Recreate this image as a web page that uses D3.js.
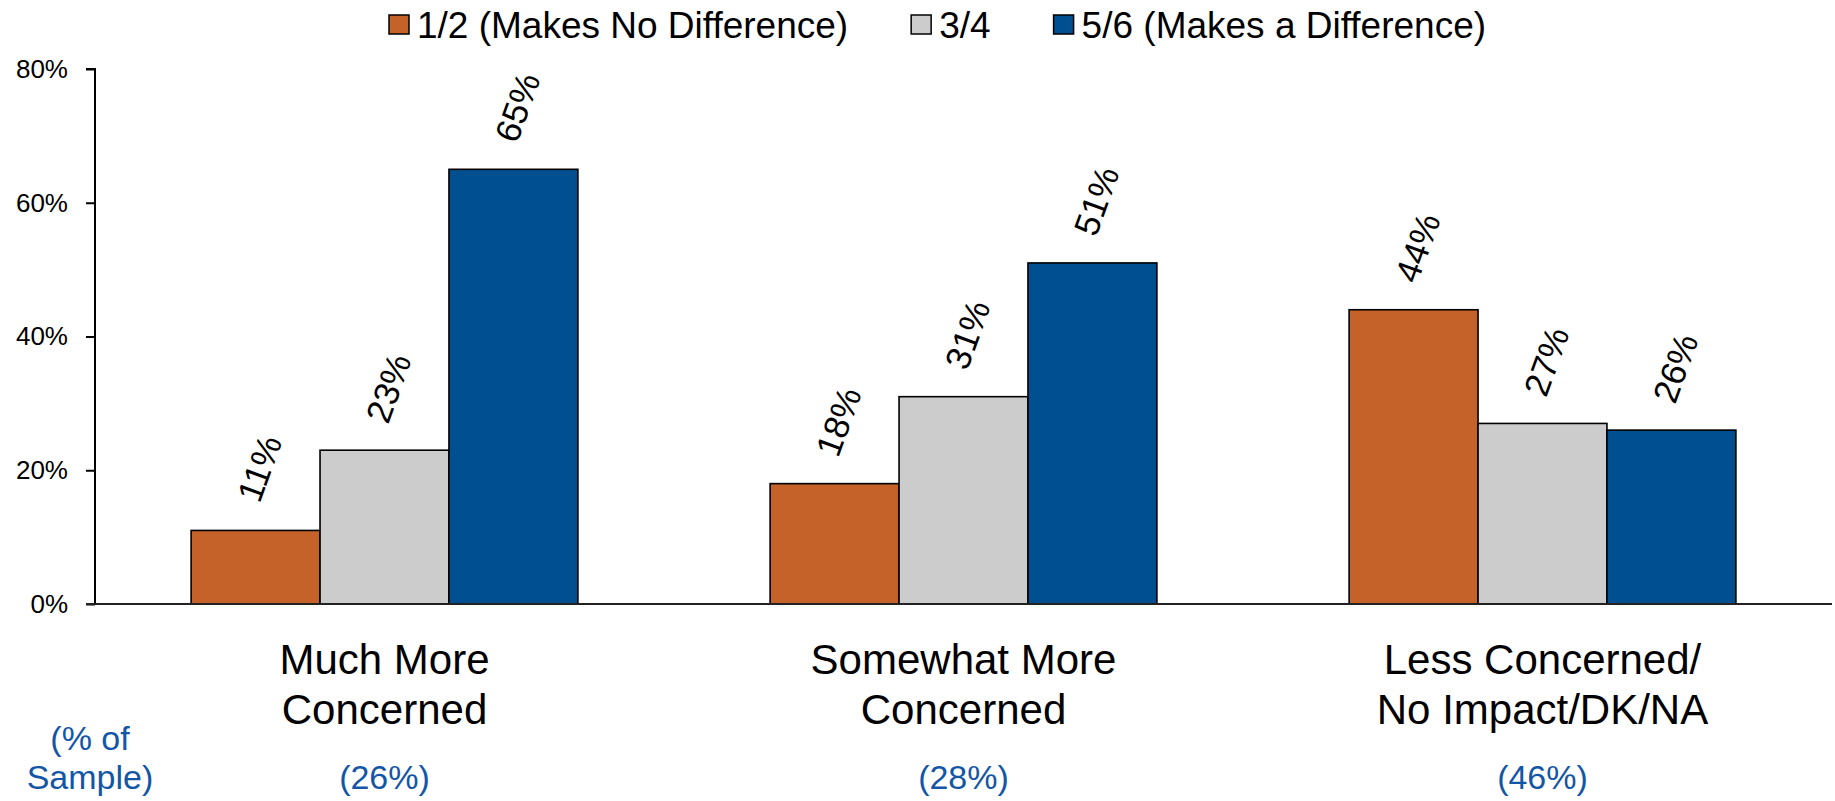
<!DOCTYPE html>
<html>
<head>
<meta charset="utf-8">
<script src="https://cdn.jsdelivr.net/npm/d3@7"></script>
<style>
  html, body { margin: 0; padding: 0; background: #ffffff; }
  svg { display: block; font-family: Arial, "Liberation Sans", sans-serif; }
</style>
</head>
<body>
<svg id="chart" width="1835" height="801"></svg>
<script>
// ---- data ----
const categories = ["Much More Concerned", "Somewhat More Concerned", "Less Concerned/No Impact/DK/NA"];
const categoryLines = [["Much More", "Concerned"], ["Somewhat More", "Concerned"], ["Less Concerned/", "No Impact/DK/NA"]];
const sampleShares = ["(26%)", "(28%)", "(46%)"];
const seriesNames = ["1/2 (Makes No Difference)", "3/4", "5/6 (Makes a Difference)"];
const seriesColors = ["#C4622A", "#CCCCCC", "#004F90"];
const makesNoDifference = [11, 18, 44];
const threeFour = [23, 31, 27];
const makesDifference = [65, 51, 26];
const yTicks = [0, 20, 40, 60, 80];
const sampleCaption = ["(% of", "Sample)"];

const seriesValues = [makesNoDifference, threeFour, makesDifference];

// ---- layout ----
const svg = d3.select("#chart");
const plotLeft = 95, plotRight = 1832, plotTop = 69, plotBottom = 604;

const x0 = d3.scaleBand().domain(categories).range([plotLeft, plotRight]).paddingInner(0.332).paddingOuter(0.166);
const x1 = d3.scaleBand().domain(seriesNames).range([0, x0.bandwidth()]).padding(0);
const y = d3.scaleLinear().domain([0, 80]).range([plotBottom, plotTop]);

// y axis
const yAxis = d3.axisLeft(y).tickValues(yTicks).tickFormat(d => d + "%").tickSize(9).tickPadding(18);
const gy = svg.append("g").attr("transform", `translate(${plotLeft},0)`).call(yAxis);
gy.select(".domain").attr("stroke", "#000").attr("stroke-width", 2).attr("d", `M-9,${plotTop}H0V${plotBottom}`);
gy.selectAll(".tick line").attr("stroke", "#000").attr("stroke-width", 2);
gy.selectAll(".tick text").attr("fill", "#000").style("font-size", "26px").style("font-family", "Arial, 'Liberation Sans', sans-serif");

// bars
const groups = svg.append("g").selectAll("g").data(categories).join("g")
  .attr("transform", d => `translate(${x0(d)},0)`);

groups.each(function(cat, ci) {
  const g = d3.select(this);
  const rows = seriesNames.map((s, si) => ({ s, si, v: seriesValues[si][ci] }));
  g.selectAll("rect").data(rows).join("rect")
    .attr("x", d => x1(d.s))
    .attr("y", d => y(d.v))
    .attr("width", x1.bandwidth())
    .attr("height", d => y(0) - y(d.v))
    .attr("fill", d => seriesColors[d.si])
    .attr("stroke", "#000")
    .attr("stroke-width", 1.6);
  g.selectAll("text.val").data(rows).join("text")
    .attr("class", "val")
    .attr("transform", d => `translate(${x1(d.s) + x1.bandwidth() / 2 + 4},${y(d.v) - 62}) rotate(-70)`)
    .attr("text-anchor", "middle")
    .attr("dy", "0.35em")
    .style("font-size", "35px")
    .attr("fill", "#000")
    .text(d => d.v + "%");
});

// baseline
svg.append("line")
  .attr("x1", plotLeft - 9).attr("x2", plotRight)
  .attr("y1", y(0)).attr("y2", y(0))
  .attr("stroke", "#222").attr("stroke-width", 2);

// category labels
categories.forEach((c, i) => {
  const cx = x0(c) + x0.bandwidth() / 2;
  const t = svg.append("text").attr("text-anchor", "middle").style("font-size", "42px").attr("fill", "#000");
  categoryLines[i].forEach((line, li) => {
    t.append("tspan").attr("x", cx).attr("y", 674 + li * 50).text(line);
  });
  svg.append("text").attr("x", cx).attr("y", 789).attr("text-anchor", "middle")
    .style("font-size", "34px").attr("fill", "#1456A6").text(sampleShares[i]);
});

// sample caption
const cap = svg.append("text").attr("text-anchor", "middle").style("font-size", "34px").attr("fill", "#1456A6");
sampleCaption.forEach((line, li) => {
  cap.append("tspan").attr("x", 90).attr("y", 750 + li * 39).text(line);
});

// legend
const legend = svg.append("g");
let lx = 389;
seriesNames.forEach((s, i) => {
  legend.append("rect").attr("x", lx).attr("y", 15).attr("width", 20).attr("height", 19)
    .attr("fill", seriesColors[i]).attr("stroke", "#000").attr("stroke-width", 1.5);
  const t = legend.append("text").attr("x", lx + 28).attr("y", 38)
    .style("font-size", "37px").attr("fill", "#000").text(s);
  const w = t.node().getComputedTextLength();
  lx = lx + 28 + w + 63;
});
</script>
</body>
</html>
